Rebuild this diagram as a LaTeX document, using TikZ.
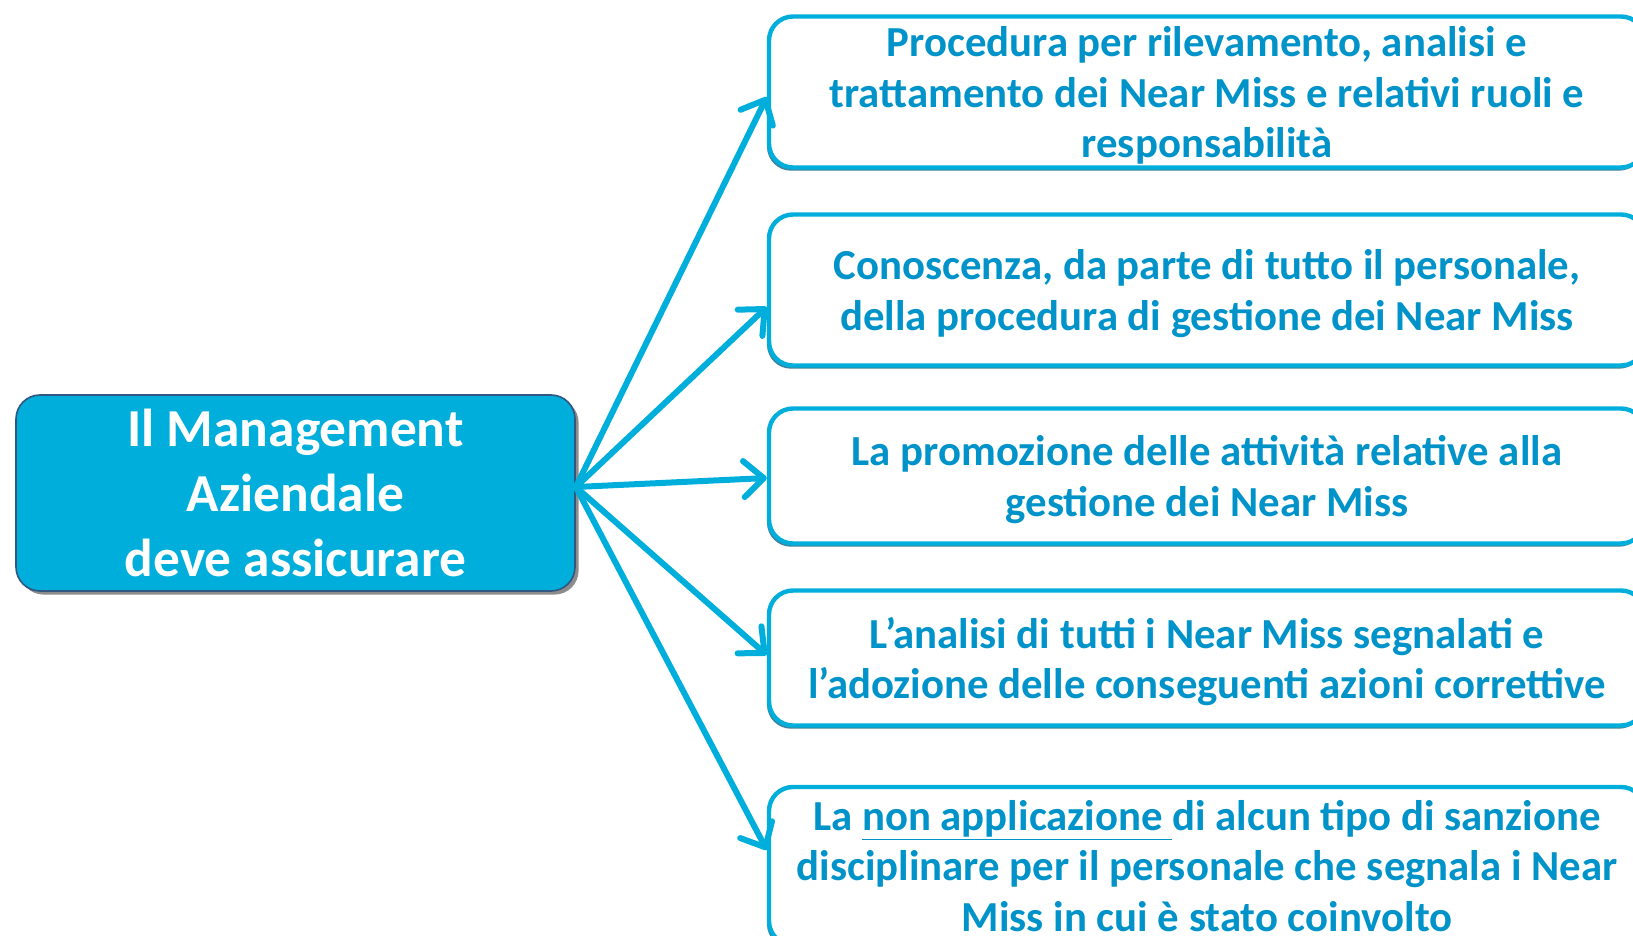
\documentclass[tikz,border=0pt]{standalone}
\usepackage{fontspec}
\setmainfont{Carlito}
\usepackage{tikz}
\usetikzlibrary{arrows.meta,shadows,calc}

\definecolor{boxcyan}{RGB}{0,174,219}
\definecolor{textblue}{RGB}{0,147,201}
\definecolor{edgeteal}{RGB}{32,108,138}
\definecolor{mgmtedge}{RGB}{48,86,130}

\tikzset{
  mgmtbox/.style={draw=mgmtedge, line width=0.8pt, fill=boxcyan, rounded corners=12pt,
    minimum width=279.5pt, minimum height=98pt, align=center, text=white,
    font=\fontsize{26.7}{32.5}\selectfont\bfseries,
    drop shadow={shadow xshift=1.8pt, shadow yshift=-1.8pt, fill=black, opacity=0.45}},
  itembox/.style={draw=boxcyan, line width=2.2pt, fill=white, rounded corners=12pt,
    minimum width=438pt, align=center, text=textblue, inner sep=2pt, text depth=0pt,
    font=\fontsize{21.4}{25.3}\selectfont\bfseries,
    drop shadow={shadow xshift=-1pt, shadow yshift=-1.6pt, fill=edgeteal, opacity=0.85}},
  feed/.style={draw=boxcyan, line width=3pt, line cap=round,
    -{Straight Barb[length=10pt, width=18pt, round]}}
}

\begin{document}
\begin{tikzpicture}[x=0.5pt, y=-0.5pt]
        \useasboundingbox (0,0) rectangle (1633,936);

        \node[mgmtbox] (mgmt) at (295.5,493) {Il Management\\Aziendale\\deve assicurare};

        \node[itembox, minimum height=75.5pt] (proc) at (1207,92)
          {Procedura per rilevamento, analisi e\\trattamento dei Near Miss e relativi ruoli e\\responsabilità};
        \node[itembox, minimum height=75.5pt] (know) at (1207,290)
          {Conoscenza, da parte di tutto il personale,\\della procedura di gestione dei Near Miss};
        \node[itembox, minimum height=67.5pt, text depth=-3pt] (prom) at (1207,476)
          {La promozione delle attività relative alla\\gestione dei Near Miss};
        \node[itembox, minimum height=67.5pt] (anal) at (1207,658)
          {L’analisi di tutti i Near Miss segnalati e\\l’adozione delle conseguenti azioni correttive};
        \node[itembox, minimum height=79pt, text depth=] (sanz) at (1207,866)
          {La \underline{non applicazione\ }di alcun tipo di sanzione\\disciplinare per il personale che segnala i Near\\Miss in cui è stato coinvolto};

        \coordinate (hub) at ($(mgmt.east)+(0,-6)$);

        \draw[feed] (hub) -- ($(proc.west)+(0,5)$);
        \draw[feed] (hub) -- ($(know.west)+(0,17)$);
        \draw[feed] (hub) -- ($(prom.west)+(0,2)$);
        \draw[feed] (hub) -- ($(anal.west)+(0,-3)$);
        \draw[feed] (hub) -- ($(sanz.west)+(0,-16)$);
\end{tikzpicture}
\end{document}
